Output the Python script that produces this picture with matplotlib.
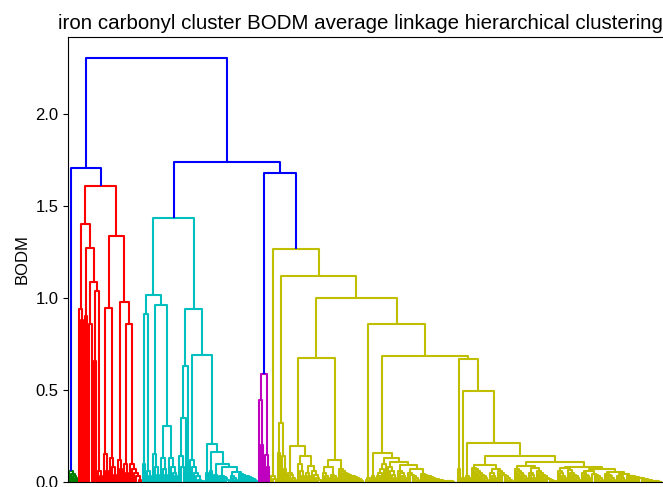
import matplotlib
matplotlib.use("Agg")
import matplotlib.pyplot as plt
from matplotlib.collections import LineCollection

plt.rcParams["font.family"] = ["Liberation Sans", "DejaVu Sans"]
plt.rcParams["font.size"] = 12

L = 0  # uma folha


def lad(hs):
    # escada descendo para a direita: cada altura junta uma folha à esquerda
    node = L
    for h in reversed(hs):
        node = (h, L, node)
    return node


def rlad(hs):
    # escada subindo para a direita: cada altura junta uma folha à direita
    node = L
    for h in reversed(hs):
        node = (h, node, L)
    return node


# alturas das fusões (BODM)
top_heights = [2.304, 1.707, 1.739, 1.679]  # raiz, A, B, C

green_tree = lad([0.06, 0.045, 0.03, 0.02])

red_tree = (1.61,
            (1.40,
             (0.94, L, (0.88, L, L)),
             (1.273,
              (0.90, L, L),
              (1.087,
               (0.86, L, L),
               (1.04,
                (0.66, L, L),
                lad([0.06, 0.03]))))),
            (1.337,
             (0.947, lad([0.15, 0.06]), lad([0.13, 0.08, 0.04])),
             (0.98,
              lad([0.12, 0.07]),
              (0.86, lad([0.1, 0.05]),
               lad([0.1, 0.07, 0.05, 0.03, 0.01])))))

cyan_tree = (1.435,
             (1.016,
              (0.915, (0.10, L, L), lad([0.06, 0.03])),
              (0.964,
               lad([0.15, 0.08, 0.04]),
               (0.306, lad([0.13, 0.07, 0.04]),
                lad([0.13, 0.08, 0.05, 0.03])))),
             (0.94,
              (0.63, (0.35, lad([0.14, 0.08]), L), L),
              (0.69,
               lad([0.12, 0.08, 0.05, 0.03, 0.01, 0.005, 0.003]),
               (0.205,
                (0.05, L, L),
                (0.165,
                 (0.06, L, L),
                 (0.096,
                  lad([0.04, 0.03]),
                  (0.08,
                   lad([0.03, 0.025, 0.02, 0.01]),
                   (0.056,
                    lad([0.03, 0.02, 0.01]),
                    lad([0.045, 0.04, 0.035, 0.03, 0.025, 0.02, 0.015,
                         0.01, 0.005])))))))))

magenta_tree = (0.587, (0.445, L, (0.2, L, L)), lad([0.147, 0.08]))

yellow_y4 = (0.674,
             (0.197,
              lad([0.05, 0.04, 0.02, 0.01]),
              (0.143,
               lad([0.1, 0.06, 0.03]),
               (0.087, lad([0.05, 0.03]), lad([0.06, 0.04, 0.02, 0.01])))),
             (0.12,
              (0.08, lad([0.05, 0.03, 0.02]), lad([0.04, 0.03, 0.02])),
              lad([0.07, 0.06, 0.05, 0.045, 0.04, 0.035, 0.03, 0.025,
                   0.02, 0.015, 0.01, 0.005])))

yellow_y9 = (0.156,
             (0.03, L, L),
             (0.132,
              rlad([0.1, 0.07, 0.05, 0.03, 0.02]),
              (0.11,
               lad([0.08, 0.06, 0.04, 0.02]),
               (0.092,
                lad([0.06, 0.05, 0.03, 0.02]),
                (0.07,
                 lad([0.05, 0.04, 0.03, 0.02, 0.01]),
                 lad([0.045, 0.04, 0.035, 0.03, 0.025, 0.02, 0.018, 0.015,
                      0.012, 0.01, 0.008, 0.006, 0.005, 0.004, 0.003, 0.002,
                      0.001]))))))

yellow_y16 = (0.09,
              lad([0.075, 0.07, 0.06, 0.05, 0.04, 0.03, 0.02, 0.01]),
              (0.07, lad([0.05, 0.03, 0.02]),
               lad([0.06, 0.05, 0.04, 0.03, 0.02, 0.01, 0.005])))

yellow_y17 = (0.11,
              (0.087,
               lad([0.07, 0.06, 0.05, 0.04, 0.03, 0.02]),
               (0.075, lad([0.05, 0.04, 0.02]),
                lad([0.06, 0.05, 0.04, 0.03, 0.02, 0.015, 0.01, 0.005, 0.003]))),
              (0.083,
               (0.075, lad([0.06, 0.05, 0.03, 0.02]),
                lad([0.065, 0.05, 0.04, 0.03, 0.02, 0.01])),
               (0.07,
                (0.06, lad([0.05, 0.04, 0.03, 0.02]),
                 lad([0.045, 0.04, 0.03, 0.02, 0.01])),
                (0.055,
                 lad([0.045, 0.04, 0.03, 0.02, 0.01]),
                 (0.045, lad([0.035, 0.03, 0.02, 0.01]),
                  lad([0.035, 0.032, 0.03, 0.028, 0.025, 0.022, 0.02, 0.018,
                       0.015, 0.012, 0.01, 0.008, 0.006, 0.004, 0.003, 0.002,
                       0.001]))))))

yellow_tree = (1.266,
               (0.03, L, (0.015, L, L)),
               (1.12,
                (0.32, (0.16, L, L), (0.14, L, (0.07, L, L))),
                (1.00,
                 yellow_y4,
                 (0.857,
                  (0.02, lad([0.01]), L),
                  (0.686,
                   yellow_y9,
                   (0.67,
                    (0.07, L, L),
                    (0.495,
                     (0.02, L, L),
                     (0.214,
                      lad([0.03, 0.02]),
                      (0.141, yellow_y16, yellow_y17)))))))))

tree = (top_heights[0],
        (top_heights[1], green_tree, red_tree),
        (top_heights[2], cyan_tree, (top_heights[3], magenta_tree, yellow_tree)))

palette = iter(["g", "r", "c", "m", "y", "k"])
color_threshold = 0.7 * top_heights[0]
segs = []
cols = []
pos = [0]


def draw(node, color=None):
    if not isinstance(node, tuple):
        x = 5 + 10 * pos[0]
        pos[0] += 1
        return x, 0.0
    h, a, b = node
    if color is None and h < color_threshold:
        color = next(palette)
    xa, ha = draw(a, color)
    xb, hb = draw(b, color)
    segs.append([(xa, ha), (xa, h), (xb, h), (xb, hb)])
    cols.append(color if color else "b")
    return (xa + xb) / 2, h


draw(tree)
n = pos[0]

fig = plt.figure(figsize=(6.63, 4.87), dpi=100)
ax = fig.add_axes([68 / 663, 5 / 487, 595 / 663, 445 / 487])
ax.add_collection(LineCollection(segs, colors=cols, linewidths=1.5))
ax.set_xlim(0, 10 * n)
ax.set_ylim(0, top_heights[0] * 1.05)
ax.set_xticks([])
ax.spines["right"].set_visible(False)
ax.set_ylabel("BODM")
ax.set_title("iron carbonyl cluster BODM average linkage hierarchical clustering",
             fontsize=14.8, x=0.491)

fig.savefig("out.png", dpi=100)
